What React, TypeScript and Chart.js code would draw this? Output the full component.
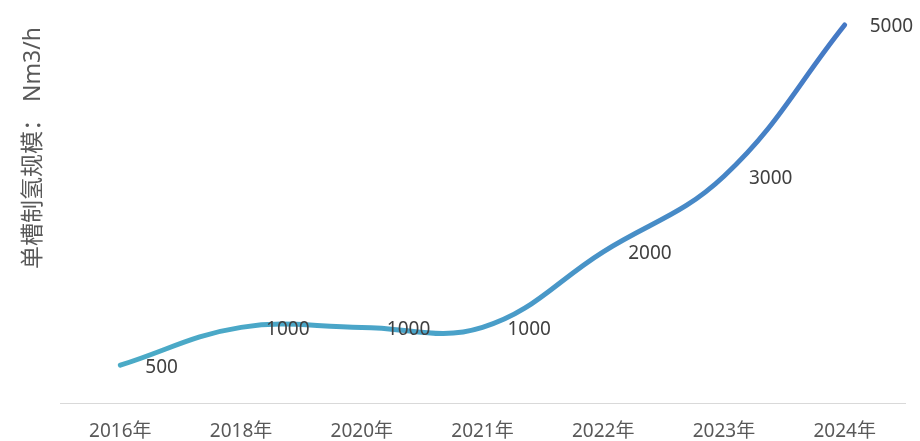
import React, { useEffect, useRef } from "react";
import { Chart, registerables } from "chart.js";

Chart.register(...registerables);

const categories = ["2016年", "2018年", "2020年", "2021年", "2022年", "2023年", "2024年"];
const values = [500, 1000, 1000, 1000, 2000, 3000, 5000];
const dataLabels = ["500", "1000", "1000", "1000", "2000", "3000", "5000"];
const yTitle = "单槽制氢规模： Nm3/h";

const FONT = "'Noto Sans', 'Noto Sans CJK SC', sans-serif";

const labelPlugin = {
  id: "labels",
  afterDatasetsDraw(chart: any) {
    const ctx = chart.ctx;
    const meta = chart.getDatasetMeta(0);
    ctx.save();
    ctx.font = `19px ${FONT}`;
    ctx.fillStyle = "#404040";
    ctx.textAlign = "left";
    ctx.textBaseline = "middle";
    meta.data.forEach((pt: any, i: number) => {
      ctx.fillText(dataLabels[i], pt.x + 25, pt.y + 2);
    });
    ctx.restore();
  },
};

const titlePlugin = {
  id: "ytitle",
  afterDraw(chart: any) {
    const ctx = chart.ctx;
    ctx.save();
    ctx.translate(33, 148);
    ctx.rotate(-Math.PI / 2);
    ctx.font = `23px ${FONT}`;
    ctx.fillStyle = "#595959";
    ctx.textAlign = "center";
    ctx.textBaseline = "middle";
    ctx.fillText(yTitle, 0, 0);
    ctx.restore();
  },
};

export default function App() {
  const ref = useRef<HTMLCanvasElement>(null);
  useEffect(() => {
    if (!ref.current) return;
    const chart = new Chart(ref.current, {
      type: "line",
      data: {
        labels: categories,
        datasets: [
          {
            data: values,
            borderWidth: 5,
            tension: 0.4,
            pointRadius: 0,
            clip: false as any,
            borderCapStyle: "round",
            borderColor: (c: any) => {
              const area = c.chart.chartArea;
              if (!area) return "#4bacc6";
              const g = c.chart.ctx.createLinearGradient(area.left, 0, area.right, 0);
              g.addColorStop(0, "#4bacc6");
              g.addColorStop(0.45, "#4aa3c9");
              g.addColorStop(1, "#4472c4");
              return g;
            },
          },
        ],
      },
      options: {
        animation: false,
        responsive: true,
        maintainAspectRatio: false,
        layout: { padding: { left: 60, right: 15, top: 25, bottom: 0 } },
        plugins: { legend: { display: false }, tooltip: { enabled: false }, title: { display: false } },
        scales: {
          x: {
            offset: true,
            grid: { display: false, drawTicks: false },
            border: { display: true, color: "#d9d9d9", width: 1 },
            ticks: { color: "#595959", font: { family: FONT, size: 19 }, padding: 17 },
            afterFit: (s: any) => {
              s.height = 38;
            },
          },
          y: {
            display: false,
            min: 0,
            max: 5000,
          },
        },
      },
      plugins: [labelPlugin, titlePlugin],
    });
    return () => chart.destroy();
  }, []);
  return (
    <div style={{ position: "fixed", left: 0, top: 0, width: 920, height: 441, background: "#fff" }}>
      <canvas ref={ref} />
    </div>
  );
}
